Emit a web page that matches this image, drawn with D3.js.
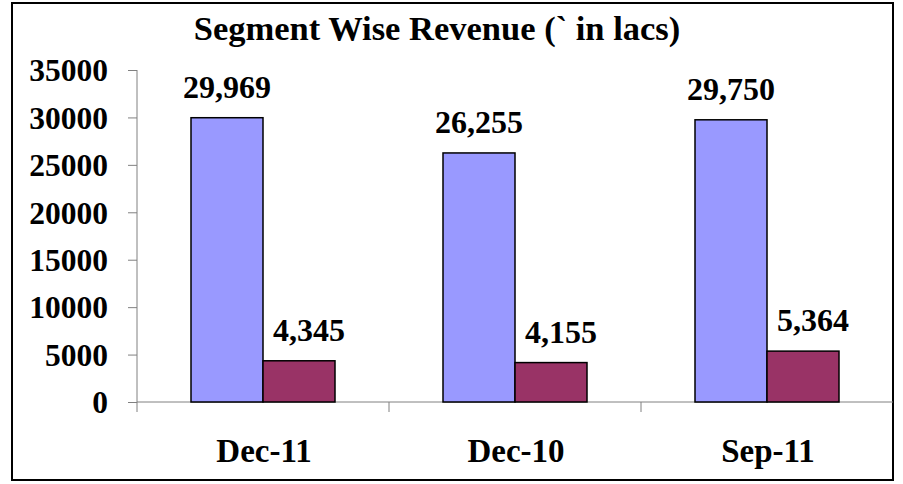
<!DOCTYPE html>
<html>
<head>
<meta charset="utf-8">
<script src="https://cdn.jsdelivr.net/npm/d3@7"></script>
<style>
  body { margin: 0; background: #fff; }
  text { font-family: "Book Antiqua", "Palatino Linotype", "Liberation Serif", serif; font-weight: bold; fill: #000; }
</style>
</head>
<body>
<script>
// chart data
var categories = ["Dec-11", "Dec-10", "Sep-11"];
var seriesNames = ["Segment A", "Segment B"];
var seriesA = [29969, 26255, 29750];
var seriesB = [4345, 4155, 5364];
var yTicks = [0, 5000, 10000, 15000, 20000, 25000, 30000, 35000];

var width = 903, height = 484;
var colors = ["#9999FF", "#993366"];

var svg = d3.select("body").append("svg")
  .attr("width", width)
  .attr("height", height);

// outer frame
svg.append("rect")
  .attr("x", 12).attr("y", 3)
  .attr("width", 881).attr("height", 477)
  .style("fill", "none")
  .style("stroke", "#000")
  .style("stroke-width", 2);

svg.append("text")
  .attr("x", 437).attr("y", 40)
  .attr("text-anchor", "middle")
  .style("font-size", "34.5px")
  .text("Segment Wise Revenue (` in lacs)");

var x0 = d3.scaleBand().domain(categories).range([137, 893]);
var barW = x0.bandwidth() / 3.5; // excel gap width 150%
var x1 = d3.scaleBand().domain(seriesNames).range([0.75 * barW, 2.75 * barW]);
var y = d3.scaleLinear().domain([0, 35000]).range([402, 70]);

// y axis
var yAxis = svg.append("g")
  .attr("transform", "translate(137,0)")
  .call(d3.axisLeft(y).tickValues(yTicks).tickFormat(d3.format("d")).tickSize(9).tickSizeOuter(0).tickPadding(20));
yAxis.select(".domain").attr("d", "M0," + y(35000) + "V" + (y(0) + 10)).style("stroke", "#808080");
yAxis.selectAll(".tick line").style("stroke", "#808080");
yAxis.selectAll(".tick text").style("font-size", "31.5px").attr("dy", "0.34em")
  .style("font-family", "\"Book Antiqua\", \"Liberation Serif\", serif");

// x axis
var xg = svg.append("g");
xg.append("line")
  .attr("x1", 137).attr("x2", 893)
  .attr("y1", y(0)).attr("y2", y(0))
  .style("stroke", "#808080");
xg.selectAll(".xtick")
  .data(categories.slice(1))
  .enter().append("line")
  .attr("x1", function(d) { return x0(d); })
  .attr("x2", function(d) { return x0(d); })
  .attr("y1", y(0)).attr("y2", y(0) + 10)
  .style("stroke", "#808080");
xg.selectAll(".xlabel")
  .data(categories)
  .enter().append("text")
  .attr("x", function(d) { return x0(d) + x0.bandwidth() / 2 + 1; })
  .attr("y", 462)
  .attr("text-anchor", "middle")
  .style("font-size", "33px")
  .text(function(d) { return d; });

var rows = categories.map(function(c, i) {
  return { cat: c, vals: [seriesA[i], seriesB[i]] };
});

var groups = svg.selectAll(".grp")
  .data(rows)
  .enter().append("g")
  .attr("transform", function(d) { return "translate(" + x0(d.cat) + ",0)"; });

groups.selectAll("rect")
  .data(function(d) { return d.vals.map(function(v, j) { return { s: seriesNames[j], v: v, j: j }; }); })
  .enter().append("rect")
  .attr("x", function(d) { return x1(d.s); })
  .attr("y", function(d) { return y(d.v); })
  .attr("width", x1.bandwidth())
  .attr("height", function(d) { return y(0) - y(d.v); })
  .style("fill", function(d) { return colors[d.j]; })
  .style("stroke", "#000")
  .style("stroke-width", 1.5);

groups.selectAll(".lbl")
  .data(function(d) { return d.vals.map(function(v, j) { return { s: seriesNames[j], v: v, j: j }; }); })
  .enter().append("text")
  .attr("x", function(d) { return x1(d.s) + x1.bandwidth() / 2 + (d.j === 1 ? 10 : 0); })
  .attr("y", function(d) { return y(d.v) - 20; })
  .attr("text-anchor", "middle")
  .style("font-size", "32px")
  .text(function(d) { return d3.format(",")(d.v); });
</script>
</body>
</html>
